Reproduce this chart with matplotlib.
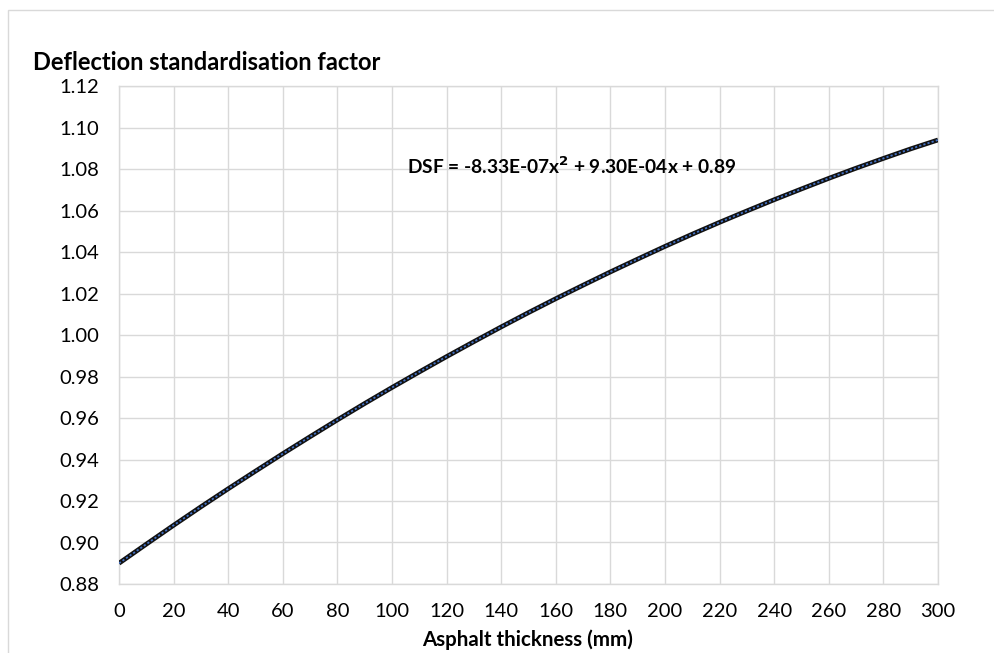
import matplotlib
matplotlib.use("Agg")
import matplotlib.pyplot as plt
from matplotlib.patches import Rectangle

thickness_mm = [0, 10, 20, 30, 40, 50, 60, 70, 80, 90, 100, 110, 120, 130, 140, 150,
                160, 170, 180, 190, 200, 210, 220, 230, 240, 250, 260, 270, 280, 290, 300]
dsf = [0.8900, 0.8992, 0.9083, 0.9172, 0.9259, 0.9344, 0.9428, 0.9510, 0.9591, 0.9670,
       0.9747, 0.9822, 0.9896, 0.9968, 1.0039, 1.0108, 1.0175, 1.0240, 1.0304, 1.0366,
       1.0427, 1.0486, 1.0543, 1.0598, 1.0652, 1.0704, 1.0755, 1.0804, 1.0851, 1.0897,
       1.0940]
x_ticks = list(range(0, 301, 20))
y_ticks = [0.88, 0.90, 0.92, 0.94, 0.96, 0.98, 1.00, 1.02, 1.04, 1.06, 1.08, 1.10, 1.12]

plt.rcParams['font.family'] = ['Lato', 'DejaVu Sans']

W, H = 995, 653
fig = plt.figure(figsize=(W / 100, H / 100), dpi=100)
ax = fig.add_axes([119 / W, 1 - 584 / H, (938 - 119) / W, (584 - 86) / H])

grid_c = '#d9d9d9'
ax.set_xlim(0, 300)
ax.set_ylim(0.88, 1.12)
ax.set_xticks(x_ticks)
ax.set_yticks(y_ticks)
ax.set_yticklabels([f"{v:.2f}" for v in y_ticks])
ax.grid(True, color=grid_c, linewidth=1.0)
ax.set_axisbelow(True)
for s in ax.spines.values():
    s.set_color(grid_c)
    s.set_linewidth(1.0)
ax.tick_params(length=0, labelsize=14.5, colors='#000000', pad=14)
ax.tick_params(axis='x', pad=14)

ax.plot(thickness_mm, dsf, color='#111111', linewidth=3.4, solid_capstyle='butt', zorder=3)
ax.plot(thickness_mm, dsf, color='#4472C4', linewidth=1.3, linestyle=(0, (1.2, 1.2)), zorder=4)

ax.text(105.5, 1.0814, r"DSF = -8.33E-07x$^{\mathbf{2}}$ + 9.30E-04x + 0.89",
        fontsize=13.8, fontweight='bold', va='center', ha='left')

fig.text(33 / W, 1 - 62 / H, "Deflection standardisation factor", fontsize=17,
         fontweight='bold', ha='left', va='center')
fig.text(528 / W, 1 - 640 / H, "Asphalt thickness (mm)", fontsize=14.8,
         fontweight='bold', ha='center', va='center')

fig.add_artist(Rectangle((8 / W, -0.1), 1.2, 1 - 10 / H + 0.1, transform=fig.transFigure,
                         fill=False, edgecolor=grid_c, linewidth=1.0))

fig.savefig("out.png", dpi=100)
